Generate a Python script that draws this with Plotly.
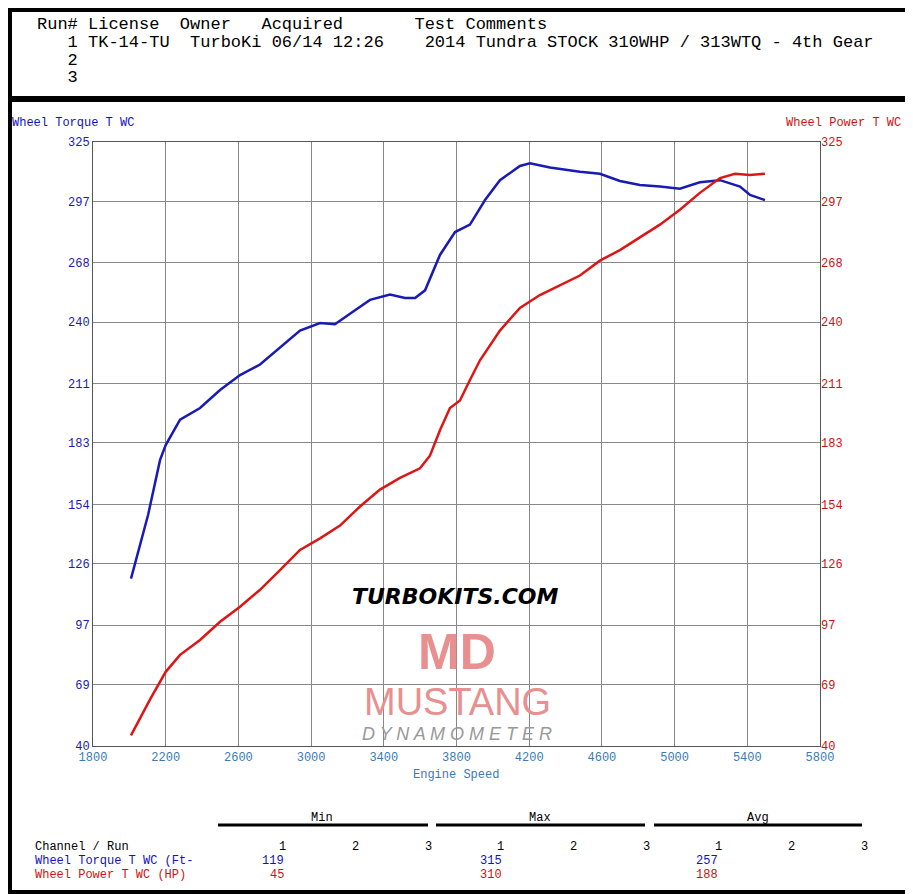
import plotly.graph_objects as go

# engine speed (rpm) and readings
torque_rpm = [2009, 2103, 2169, 2200, 2279, 2389, 2499, 2609, 2719, 2829, 2939, 3049, 3131, 3214,
              3324, 3434, 3517, 3572, 3627, 3709, 3792, 3874, 3957, 4039, 4149, 4204, 4314, 4479,
              4589, 4699, 4809, 4919, 5029, 5139, 5250, 5360, 5415, 5497]
torque = [119, 149, 175, 182, 194, 199.5, 208, 215, 220, 228, 236, 239.6, 239, 244,
          250.5, 253, 251.4, 251.4, 255, 271.7, 282.5, 286, 297.6, 307, 313.7, 315, 313, 311,
          310, 306.6, 304.7, 304, 303, 306, 307, 304, 300, 297.6]
power_rpm = [2009, 2114, 2200, 2279, 2389, 2499, 2609, 2719, 2829, 2939, 3049, 3159, 3269, 3379,
             3489, 3599, 3654, 3709, 3764, 3819, 3874, 3929, 4039, 4149, 4259, 4369, 4479, 4589,
             4699, 4809, 4919, 5029, 5139, 5250, 5332, 5415, 5497]
power = [45, 62, 75, 83, 90, 98.6, 105.7, 113.7, 123, 132.5, 138, 144, 153, 161,
         166.5, 171, 177, 189, 199.5, 203, 212.7, 222, 236, 246.7, 252.8, 257.5, 262, 269,
         274, 280, 286, 293, 301, 308, 310, 309.4, 310]
y_ticks = [40, 69, 97, 126, 154, 183, 211, 240, 268, 297, 325]
x_ticks = list(range(1800, 5801, 400))

# page shows the figure offset by 8px, so work in reference pixels and shift
OFF = 8
W, H = 913 - OFF, 894 - OFF
L, R, T, B = 93 - OFF, 820 - OFF, 142 - OFF, 746 - OFF
MONO = "Courier New, Liberation Mono, monospace"
BLUE, RED, DARK = "#1010c8", "#d01010", "#000000"


def px(x):
    return (x - OFF - L) / (R - L)


def py(y):
    return (B - (y - OFF)) / (B - T)


fig = go.Figure()
fig.add_trace(go.Scatter(x=torque_rpm, y=torque, mode="lines", line=dict(color="#1a1ab4", width=2.5),
                         name="Wheel Torque"))
fig.add_trace(go.Scatter(x=power_rpm, y=power, mode="lines", line=dict(color="#dd1515", width=2.5),
                         name="Wheel Power", yaxis="y2"))

ax = dict(showgrid=True, gridcolor="#888", gridwidth=1, zeroline=False, showline=True,
          linecolor="#555", mirror=True, ticks="", tickfont=dict(family=MONO, size=12))
fig.update_layout(
    width=W, height=H, showlegend=False, plot_bgcolor="white", paper_bgcolor="white",
    margin=dict(l=L, r=W - R, t=T, b=H - B),
    xaxis=dict(ax, range=[1800, 5800], tickvals=x_ticks, tickfont=dict(family=MONO, size=12, color="#3a7ab8")),
    yaxis=dict(ax, range=[40, 325], tickvals=y_ticks, tickfont=dict(family=MONO, size=12, color="#1a1ab4")),
    yaxis2=dict(range=[40, 325], tickvals=y_ticks, overlaying="y", side="right", showgrid=False,
                zeroline=False, tickfont=dict(family=MONO, size=12, color=RED)),
)

shapes = [
    dict(x0=px(10), x1=px(908), y0=py(10), y1=py(98), line=dict(color="black", width=4)),
    dict(x0=px(10), x1=px(908), y0=py(100), y1=py(892), line=dict(color="black", width=4)),
]
for a, b in [(218, 428), (436, 645), (654, 862)]:
    shapes.append(dict(type="line", x0=px(a), x1=px(b), y0=py(825), y1=py(825),
                       line=dict(color="black", width=3)))
fig.update_layout(shapes=[dict(s, type=s.get("type", "rect"), xref="paper", yref="paper") for s in shapes])


def txt(x, y, s, color=DARK, size=13, anchor="left", family=MONO, **kw):
    fig.add_annotation(x=px(x), y=py(y), xref="paper", yref="paper", text=s, showarrow=False,
                       xanchor=anchor, yanchor="middle", font=dict(family=family, size=size, color=color), **kw)


# header
txt(35, 24, "Run# License  Owner   Acquired       Test Comments", size=17)
txt(35, 42, "   1 TK-14-TU  TurboKi 06/14 12:26    2014 Tundra STOCK 310WHP / 313WTQ - 4th Gear", size=17)
txt(35, 60, "   2", size=17)
txt(35, 78, "   3", size=17)

txt(10, 123, "Wheel Torque T WC", color=BLUE, size=12)
txt(903, 123, "Wheel Power T WC", color=RED, size=12, anchor="right")
txt(456, 775, "Engine Speed", color="#3a7ab8", size=12, anchor="center")

# watermark
txt(455, 596, "<b><i>TURBOKITS.COM</i></b>", size=22, anchor="center", family="Arial Black, DejaVu Sans")
txt(457, 652, "<b>MD</b>", color="#e89090", size=50, anchor="center", family="Arial, DejaVu Sans")
txt(457, 702, "MUSTANG", color="#e89090", size=38, anchor="center", family="Arial, DejaVu Sans")
txt(457, 734, "<i>D Y N A M O M E T E R</i>", color="#999", size=18, anchor="center",
    family="Arial, DejaVu Sans")

# summary table
for c, lab in [(322, "Min"), (540, "Max"), (758, "Avg")]:
    txt(c, 818, lab, size=12, anchor="center")
txt(33, 847, "Channel / Run", size=12)
for base in (282, 500, 718):
    for i, n in enumerate("123"):
        txt(base + i * 73, 847, n, size=12, anchor="center")
txt(33, 861, "Wheel Torque T WC (Ft-", color=BLUE, size=12)
txt(33, 875, "Wheel Power T WC (HP)", color=RED, size=12)
for x, v in [(286, "119"), (504, "315"), (720, "257")]:
    txt(x, 861, v, color=BLUE, size=12, anchor="right")
for x, v in [(286, "45"), (504, "310"), (720, "188")]:
    txt(x, 875, v, color=RED, size=12, anchor="right")

fig.write_html("out.html")
